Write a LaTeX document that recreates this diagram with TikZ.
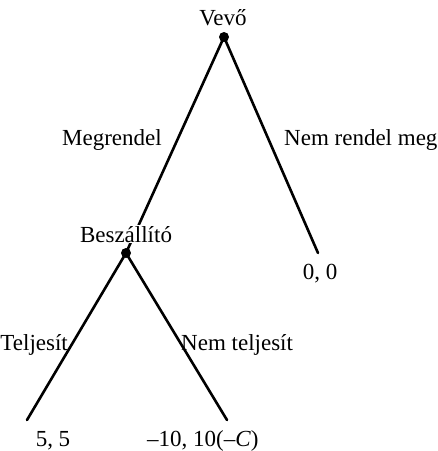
\documentclass[tikz,border=0pt]{standalone}
\usepackage{fontspec}
\setmainfont{Liberation Serif}
\begin{document}
\begin{tikzpicture}[x=1pt,y=-1pt,
  branch/.style={line width=2.6pt,line cap=round},
  dec/.style={circle,fill=black,inner sep=0pt,minimum size=10pt},
  lbl/.style={font=\fontsize{23}{26}\selectfont,inner sep=0pt},
  plbl/.style={lbl,fill=white,inner sep=1pt}]
\useasboundingbox (0,0) rectangle (438,451);
% decision nodes
\node[dec] (v) at (224,37) {};
\node[dec] (b) at (126,253) {};
% leaf ends
\coordinate (l0) at (318,253);
\coordinate (l1) at (27,420);
\coordinate (l2) at (227,420);
% branches
\draw[branch] (v.center) -- (b.center);
\draw[branch] (v.center) -- (l0);
\draw[branch] (b.center) -- (l1);
\draw[branch] (b.center) -- (l2);
% player names
\node[plbl,anchor=base] (vl) at (223,25) {Vevő};
\node[plbl,anchor=base] (bl) at (126,242) {Beszállító};
% move labels
\node[lbl,anchor=base east] (m1) at (162,145) {Megrendel};
\node[lbl,anchor=base west] (m2) at (284,145) {Nem rendel meg};
\node[lbl,anchor=base east] (m3) at (68,350) {Teljesít};
\node[lbl,anchor=base west] (m4) at (181,350) {Nem teljesít};
% payoffs
\node[lbl,anchor=base] (p0) at (320,279) {0, 0};
\node[lbl,anchor=base] (p1) at (53,446) {5, 5};
\node[lbl,anchor=base west] (p2) at (147,446) {\textendash10, 10(\textendash\textit{C})};
\end{tikzpicture}
\end{document}
